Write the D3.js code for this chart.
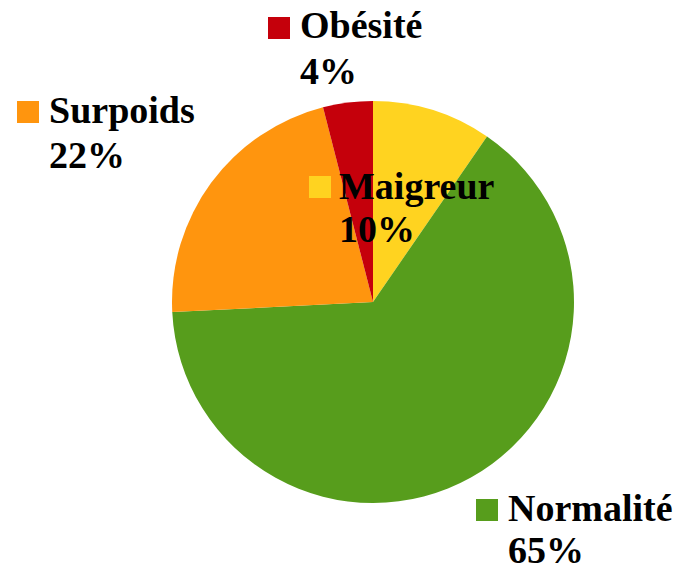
<!DOCTYPE html>
<html>
<head>
<meta charset="utf-8">
<script src="https://cdn.jsdelivr.net/npm/d3@7/dist/d3.min.js"></script>
<style>
  html, body { margin: 0; padding: 0; background: #ffffff; }
  svg { display: block; }
  svg text { font-family: "Liberation Serif", Tinos, "Times New Roman", serif; font-weight: bold; font-size: 38px; fill: #000; }
</style>
</head>
<body>
<svg id="chart" width="673" height="571"></svg>
<script>
// Data
const categories = ["Maigreur", "Normalité", "Surpoids", "Obésité"];
const values = [9.6, 64.6, 21.8, 4.0];
const colors = ["#FFD320", "#579D1C", "#FF950E", "#C5000B"];

// Layout (label anchor positions: square left/top, text x, baselines)
const labelLayout = [
  { sx: 309, sy: 176, tx: 339, b1: 199, b2: 242 },
  { sx: 476, sy: 499, tx: 508, b1: 521, b2: 563 },
  { sx: 17,  sy: 101, tx: 49,  b1: 123, b2: 168 },
  { sx: 268, sy: 17,  tx: 300, b1: 38,  b2: 84 }
];

const svg = d3.select("#chart");
const cx = 373, cy = 302, r = 201;

const total = d3.sum(values);
const pie = d3.pie().sort(null).value(d => d.value);
const data = categories.map((c, i) => ({ name: c, value: values[i], color: colors[i] }));
const arcs = pie(data);
const arc = d3.arc().innerRadius(0).outerRadius(r);

const g = svg.append("g").attr("transform", `translate(${cx},${cy})`);
g.selectAll("path")
  .data(arcs)
  .join("path")
  .attr("d", arc)
  .attr("fill", d => d.data.color);

const lg = svg.append("g");
arcs.forEach((a, i) => {
  const L = labelLayout[i];
  lg.append("rect")
    .attr("x", L.sx).attr("y", L.sy)
    .attr("width", 22).attr("height", 22)
    .attr("fill", a.data.color);
  lg.append("text")
    .attr("x", L.tx).attr("y", L.b1)
    .text(a.data.name);
  lg.append("text")
    .attr("x", L.tx).attr("y", L.b2)
    .text(Math.round(a.data.value / total * 100) + "%");
});

// Make sure the serif face is loaded, then re-apply it so text re-lays out.
if (document.fonts && document.fonts.load) {
  document.fonts.load("bold 38px 'Liberation Serif'", "Normalité 65%").then(() => {
    lg.selectAll("text").style("font-family", "'Liberation Serif', serif");
  });
}
</script>
</body>
</html>
